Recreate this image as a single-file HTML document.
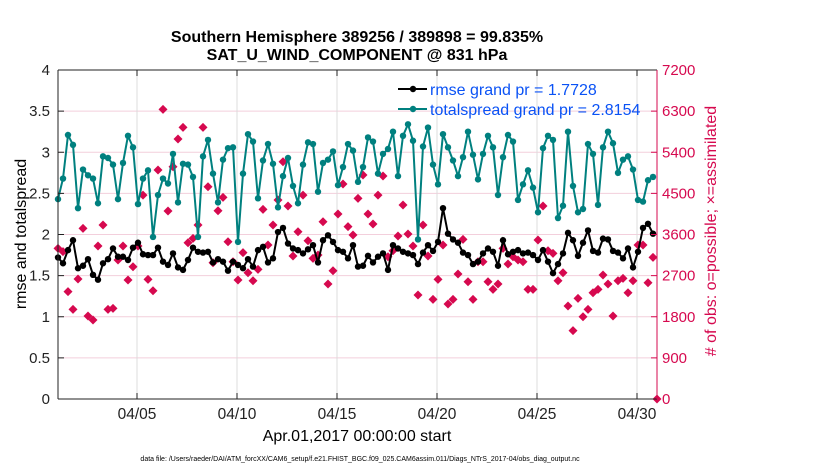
<!DOCTYPE html>
<html><head><meta charset="utf-8"><style>
body{margin:0;background:#fff;width:830px;height:470px;overflow:hidden;font-family:"Liberation Sans",sans-serif}
</style></head><body>
<svg id="chart" width="830" height="470" xmlns="http://www.w3.org/2000/svg" font-family="Liberation Sans, sans-serif">
<text x="357" y="42" text-anchor="middle" font-size="16" font-weight="bold">Southern Hemisphere 389256 / 389898 = 99.835%</text>
<text x="357" y="60" text-anchor="middle" font-size="16" font-weight="bold">SAT_U_WIND_COMPONENT @ 831 hPa</text>
<g id="grid"></g>
<g id="series"></g>
<g id="axes"></g>
<text transform="translate(26,234) rotate(-90)" text-anchor="middle" font-size="16">rmse and totalspread</text>
<text transform="translate(716,231) rotate(-90)" text-anchor="middle" font-size="16" fill="#d6094f"># of obs: o=possible; ×=assimilated</text>
<text x="357" y="441" text-anchor="middle" font-size="16">Apr.01,2017 00:00:00 start</text>
<text x="360" y="461" text-anchor="middle" font-size="7">data file: /Users/raeder/DAI/ATM_forcXX/CAM6_setup/f.e21.FHIST_BGC.f09_025.CAM6assim.011/Diags_NTrS_2017-04/obs_diag_output.nc</text>
<g id="legend">
<line x1="398" y1="89" x2="427" y2="89" stroke="#000" stroke-width="2"/><circle cx="413" cy="89" r="3.2" fill="#000"/>
<text x="430" y="95" font-size="16" fill="#0a52f5">rmse grand pr = 1.7728</text>
<line x1="398" y1="109" x2="427" y2="109" stroke="#00807f" stroke-width="2"/><circle cx="413" cy="109" r="3.2" fill="#00807f"/>
<text x="430" y="115" font-size="16" fill="#0a52f5">totalspread grand pr = 2.8154</text>
</g>
</svg>
<script>
const xTickLabels=["04/05","04/10","04/15","04/20","04/25","04/30"];
const xTickDays=[4,9,14,19,24,29];
const yTicks=[0,0.5,1,1.5,2,2.5,3,3.5,4];
const y2Ticks=[0,900,1800,2700,3600,4500,5400,6300,7200];
const rmse=[1.72,1.65,1.81,1.93,1.59,1.62,1.70,1.51,1.45,1.65,1.70,1.83,1.73,1.73,1.69,1.84,1.90,1.76,1.75,1.75,1.84,1.67,1.63,1.77,1.60,1.57,1.69,1.84,1.79,1.78,1.79,
1.66,1.70,1.67,1.56,1.67,1.63,1.59,1.70,1.61,1.81,1.85,1.66,1.71,2.03,2.08,1.89,1.83,1.81,1.77,1.82,1.87,1.66,1.93,1.99,1.91,1.81,1.79,1.71,1.87,1.61,
1.62,1.74,1.66,1.73,1.77,1.57,1.87,1.83,1.79,1.77,1.75,1.64,1.78,1.87,1.80,1.91,2.32,2.01,1.94,1.90,1.78,1.75,1.64,1.67,1.77,1.83,1.79,1.62,1.93,1.76,
1.79,1.81,1.77,1.78,1.75,1.69,1.81,1.67,1.53,1.64,1.77,2.02,1.93,1.74,1.90,2.05,1.80,1.78,1.95,1.94,1.80,1.78,1.71,1.83,1.60,1.79,2.08,2.13,2.01];
const spread=[2.43,2.68,3.21,3.09,2.32,2.79,2.72,2.68,2.38,2.95,2.93,2.85,2.43,2.87,3.20,3.06,2.37,2.68,2.78,1.97,2.48,2.68,2.62,2.98,2.39,2.86,2.85,2.70,1.97,2.95,3.15,
2.74,2.39,2.91,3.05,3.06,1.91,2.74,3.22,3.13,2.44,2.90,3.10,2.86,2.33,2.71,2.93,2.59,2.38,2.85,3.12,3.10,2.52,2.87,2.91,3.01,2.60,2.82,3.10,3.02,2.64,
2.82,3.18,3.13,2.74,2.98,3.04,3.25,2.71,3.20,3.34,3.14,1.94,3.07,3.30,2.85,2.61,3.22,3.06,2.90,2.71,2.94,3.25,2.97,2.67,2.98,3.20,3.06,2.48,2.94,3.21,
3.13,2.42,2.61,2.78,2.57,2.27,3.05,3.20,3.15,2.20,2.35,3.25,2.59,2.27,2.31,3.10,2.98,2.36,3.06,3.25,3.11,2.75,2.91,2.95,2.79,2.42,2.40,2.66,2.70];
const nobs=[3297,3224,2349,1962,2626,3734,1816,1729,3348,3807,1962,1984,3041,3348,2604,2895,3348,4463,2619,2370,5011,6338,4113,5083,5689,5945,3420,3516,3807,5945,4645,
2983,4121,4413,3442,3005,2604,3202,2764,2589,2837,4150,3370,3807,4354,5193,4223,3129,3661,4463,3464,3078,3151,3880,2516,2808,4048,4704,3771,3589,4391,
4901,4048,3829,4463,4879,3114,3245,3566,4245,3610,3348,2276,3807,3129,2181,2619,3370,2079,2181,2735,3494,2567,2181,3005,3005,2567,2400,2516,3297,2954,
3114,3041,3005,2400,2400,3479,4223,3245,3188,2589,2764,2035,1495,2203,1801,1962,2326,2400,2713,2516,1816,2589,2641,2326,2589,3370,3370,2545,3100,0];
const L=58,R=657,T=70,B=399;
const xOf=d=>57+20*d;
const yOf=v=>B-(v/4)*(B-T);
const y2Of=v=>B-(v/7200)*(B-T);
const tOf=i=>0.05+0.25*i;
const NS="http://www.w3.org/2000/svg";
function mk(tag,attrs,parent){const e=document.createElementNS(NS,tag);for(const k in attrs)e.setAttribute(k,attrs[k]);parent.appendChild(e);return e;}
const grid=document.getElementById('grid'),ser=document.getElementById('series'),ax=document.getElementById('axes');
y2Ticks.forEach(v=>{const y=y2Of(v);const g=mk('line',{x1:L,x2:R,y1:y,y2:y,stroke:'#f3cfdc','stroke-width':1},grid);

});
xTickDays.forEach((d,i)=>{const x=xOf(d);const g=mk('line',{x1:x,x2:x,y1:T,y2:B,stroke:'#dcdcdc','stroke-width':1},grid);


mk('line',{x1:x,x2:x,y1:B,y2:B-6,stroke:'#222'},ax);mk('line',{x1:x,x2:x,y1:T,y2:T+6,stroke:'#222'},ax);
const t=mk('text',{x:x,y:B+20,'text-anchor':'middle','font-size':15.5,fill:'#222'},ax);t.textContent=xTickLabels[i];

});
yTicks.forEach(v=>{const y=yOf(v);mk('line',{x1:L,x2:L+6,y1:y,y2:y,stroke:'#222'},ax);
const t=mk('text',{x:L-8,y:y+5,'text-anchor':'end','font-size':15,fill:'#222'},ax);t.textContent=String(v);

});
y2Ticks.forEach(v=>{const y=y2Of(v);mk('line',{x1:R-6,x2:R,y1:y,y2:y,stroke:'#d6094f'},ax);
const t=mk('text',{x:R+5,y:y+5,'font-size':15,fill:'#d6094f'},ax);t.textContent=String(v);

});
mk('line',{x1:L,x2:R,y1:T,y2:T,stroke:'#222'},ax);mk('line',{x1:L,x2:R,y1:B,y2:B,stroke:'#222'},ax);
mk('line',{x1:L,x2:L,y1:T,y2:B,stroke:'#222'},ax);mk('line',{x1:R,x2:R,y1:T,y2:B,stroke:'#d6094f'},ax);
nobs.forEach((v,i)=>{const x=i===nobs.length-1?R:xOf(tOf(i)),y=y2Of(v),s=4.5;
const p=mk('polygon',{points:`${x},${y-s} ${x+s},${y} ${x},${y+s} ${x-s},${y}`,fill:'#d6094f'},ser);

});
function line(data,col,name){const pts=data.map((v,i)=>xOf(tOf(i))+','+yOf(v)).join(' ');
const pl=mk('polyline',{points:pts,fill:'none',stroke:col,'stroke-width':2},ser);


data.forEach((v,i)=>{const c=mk('circle',{cx:xOf(tOf(i)),cy:yOf(v),r:3.2,fill:col},ser);

});}
line(spread,'#00807f','totalspread');
line(rmse,'#000','rmse');
</script>
</body></html>
